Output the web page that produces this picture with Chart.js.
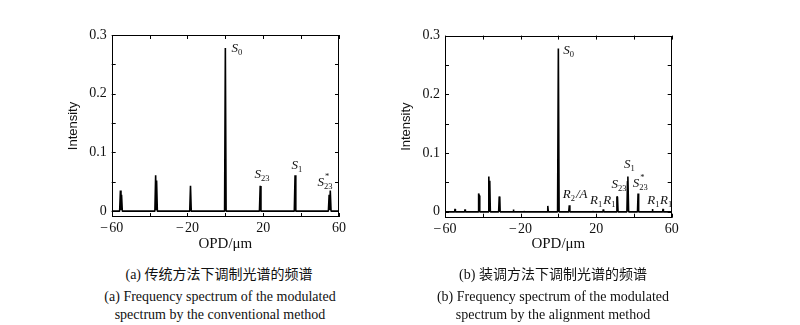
<!DOCTYPE html>
<html>
<head>
<meta charset="utf-8">
<script src="https://cdn.jsdelivr.net/npm/chart.js@4/dist/chart.umd.min.js"></script>
<style>
body { margin: 0; background: #fff; width: 800px; height: 325px; position: relative; overflow: hidden; }
.panel { position: absolute; top: 0; height: 260px; }
.cap { position: absolute; font-family: "Liberation Serif", "Noto Sans CJK SC", serif; color: #111;
       white-space: nowrap; transform: translateX(-50%); line-height: 18px; text-align: center; }
</style>
</head>
<body>
<div class="panel" style="left:0; width:400px"><canvas id="chartA"></canvas></div>
<div class="panel" style="left:390px; width:410px"><canvas id="chartB"></canvas></div>

<div class="cap" style="left:219px; top:266px; font-size:14px">(a) 传统方法下调制光谱的频谱</div>
<div class="cap" style="left:220px; top:288px; font-size:14px">(a) Frequency spectrum of the modulated<br>spectrum by the conventional method</div>
<div class="cap" style="left:553px; top:266px; font-size:14px">(b) 装调方法下调制光谱的频谱</div>
<div class="cap" style="left:553px; top:288px; font-size:14px">(b) Frequency spectrum of the modulated<br>spectrum by the alignment method</div>

<script>
// axis ticks (all get a tick mark, only some get a number)
const xTicks = [-60, -40, -20, 0, 20, 40, 60];
const xLabels = [-60, -20, 20, 60];
const yTicks = [0, 0.05, 0.1, 0.15, 0.2, 0.25, 0.3];
const yLabels = [0, 0.1, 0.2, 0.3];

// (a) conventional method - spectrum trace
const opdA = [-60, -55.8, -55.4, -55.1, -54.8, -54.4,
  -37.2, -36.8, -36.5, -36.3, -35.9,
  -18.8, -18.4, -18.0,
  -0.4, 0, 0.4,
  18.0, 18.4, 18.8,
  36.4, 36.8, 37.2,
  54.4, 54.8, 55.1, 55.4, 55.8, 60];
const intensityA = [0, 0, 0.035, 0.002, 0.028, 0,
  0, 0.061, 0.003, 0.052, 0,
  0, 0.043, 0,
  0, 0.278, 0,
  0, 0.043, 0,
  0, 0.061, 0,
  0, 0.028, 0.002, 0.035, 0, 0];

// (b) alignment method
const opdB = [-60, -54.9, -54.7, -54.5, -49.6, -49.4, -49.2,
  -42.4, -42.2, -41.9, -41.6,
  -37.1, -36.8, -36.5, -36.3, -36.0,
  -31.6, -31.3, -31.0, -30.8,
  -24.0, -23.8, -23.6, -18.4, -18.2, -18.0,
  -5.9, -5.6, -5.3,
  -0.4, 0, 0.4,
  5.5, 5.8, 6.1,
  18.0, 18.2, 18.4, 23.6, 23.8, 24.0,
  30.8, 31.0, 31.3, 31.6,
  36.3, 36.6, 36.8, 37.2,
  41.9, 42.2, 42.5,
  49.6, 49.8, 50.0, 55.2, 55.4, 55.6, 60];
const intensityB = [0, 0, 0.005, 0, 0, 0.004, 0,
  0, 0.031, 0.028, 0,
  0, 0.060, 0.004, 0.053, 0,
  0, 0.026, 0.024, 0,
  0, 0.004, 0, 0, 0.0015, 0,
  0, 0.010, 0,
  0, 0.278, 0,
  0, 0.011, 0,
  0, 0.0015, 0, 0, 0.004, 0,
  0, 0.026, 0.025, 0,
  0, 0.052, 0.060, 0,
  0, 0.031, 0,
  0, 0.005, 0, 0, 0.005, 0, 0];

// peak annotations: x,y = left/baseline of the letter in data units
const peakLabelsA = [
  { x: 3.3, y: 0.271, main: 'S', sub: '0' },
  { x: 15.4, y: 0.056, main: 'S', sub: '23' },
  { x: 34.9, y: 0.072, main: 'S', sub: '1' },
  { x: 48.6, y: 0.043, main: 'S', sub: '23', sup: '*' }
];
const peakLabelsB = [
  { x: 2.6, y: 0.269, main: 'S', sub: '0' },
  { x: 2.3, y: 0.023, main: 'R', sub: '2', tail: '/A' },
  { x: 16.8, y: 0.0127, main: 'R', sub: '1' },
  { x: 23.8, y: 0.0127, main: 'R', sub: '1' },
  { x: 28.2, y: 0.041, main: 'S', sub: '23' },
  { x: 34.8, y: 0.074, main: 'S', sub: '1' },
  { x: 39.4, y: 0.043, main: 'S', sub: '23', sup: '*' },
  { x: 47.1, y: 0.0127, main: 'R', sub: '1' },
  { x: 53.8, y: 0.0127, main: 'R', sub: '1' }
];

const SERIF = '"Liberation Serif", "Times New Roman", serif';

// box frame, inward tick marks and peak names
const framePlugin = {
  id: 'frame',
  afterDraw(chart, args, opts) {
    const {ctx, chartArea: a, scales: {x, y}} = chart;
    ctx.save();
    ctx.strokeStyle = '#000';
    ctx.lineWidth = 1;
    ctx.strokeRect(Math.round(a.left) + 0.5, Math.round(a.top) + 0.5,
      Math.round(a.width) - 1, Math.round(a.height) - 1);
    ctx.beginPath();
    xTicks.forEach(v => {
      const px = Math.round(x.getPixelForValue(v)) + 0.5;
      ctx.moveTo(px, a.bottom); ctx.lineTo(px, a.bottom - 4);
      ctx.moveTo(px, a.top); ctx.lineTo(px, a.top + 4);
    });
    yTicks.forEach(v => {
      const py = Math.round(y.getPixelForValue(v)) + 0.5;
      ctx.moveTo(a.left, py); ctx.lineTo(a.left + 4, py);
      ctx.moveTo(a.right, py); ctx.lineTo(a.right - 4, py);
    });
    ctx.stroke();

    ctx.fillStyle = '#111';
    ctx.textBaseline = 'alphabetic';
    ctx.textAlign = 'left';
    (opts.items || []).forEach(it => {
      let px = x.getPixelForValue(it.x);
      const py = y.getPixelForValue(it.y);
      ctx.font = 'italic 13px ' + SERIF;
      ctx.fillText(it.main, px, py);
      px += ctx.measureText(it.main).width;
      ctx.font = '8.5px ' + SERIF;
      ctx.fillText(it.sub, px, py + 3);
      const w = ctx.measureText(it.sub).width;
      if (it.sup) ctx.fillText(it.sup, px + 1, py - 7);
      px += w;
      if (it.tail) {
        ctx.font = 'italic 13px ' + SERIF;
        ctx.fillText(it.tail, px + 1, py);
      }
    });
    ctx.restore();
  }
};

function fmtX(v) {
  if (!xLabels.includes(v)) return '';
  return v < 0 ? '\u2212\u200a' + Math.abs(v) : String(v);
}
function fmtY(v) {
  if (!yLabels.some(l => Math.abs(l - v) < 1e-9)) return '';
  return v === 0 ? '0' : v.toFixed(1);
}

function buildChart(id, xs, ys, items, geo) {
  const pts = xs.map((v, i) => ({x: v, y: ys[i]}));
  return new Chart(document.getElementById(id), {
    type: 'scatter',
    data: {
      datasets: [{
        data: pts,
        showLine: true,
        borderColor: '#000',
        borderWidth: 1.6,
        borderJoinStyle: 'bevel',
        pointRadius: 0,
        tension: 0
      }]
    },
    options: {
      responsive: true,
      maintainAspectRatio: false,
      animation: false,
      events: [],
      layout: {padding: {left: geo.padLeft, right: geo.padRight, top: geo.top, bottom: 0}},
      plugins: {legend: {display: false}, tooltip: {enabled: false}, frame: {items: items}},
      scales: {
        x: {
          type: 'linear', min: -60, max: 60,
          afterBuildTicks: s => { s.ticks = xTicks.map(v => ({value: v})); },
          afterFit: s => { s.height = 260 - geo.bottom; },
          grid: {display: false, drawTicks: false},
          border: {display: false},
          ticks: {autoSkip: false, maxRotation: 0, padding: 3, color: '#111',
                  font: {family: SERIF, size: 14}, callback: fmtX},
          title: {display: true, text: 'OPD/\u03bcm', color: '#111',
                  font: {family: SERIF, size: 15}, padding: {top: 0, bottom: 7}}
        },
        y: {
          type: 'linear', min: -0.01, max: 0.3,
          afterBuildTicks: s => { s.ticks = yTicks.map(v => ({value: v})); },
          afterFit: s => { s.width = geo.yWidth; },
          grid: {display: false, drawTicks: false},
          border: {display: false},
          ticks: {autoSkip: false, padding: 5, color: '#111',
                  font: {family: SERIF, size: 14}, callback: fmtY},
          title: {display: true, text: 'Intensity', color: '#111',
                  font: {family: '"Liberation Sans", Arial, sans-serif', size: 13}, padding: {top: 4, bottom: 0}}
        }
      }
    },
    plugins: [framePlugin]
  });
}

buildChart('chartA', opdA, intensityA, peakLabelsA,
  {padLeft: 62, yWidth: 49.7, padRight: 61, top: 35, bottom: 217});
buildChart('chartB', opdB, intensityB, peakLabelsB,
  {padLeft: 5, yWidth: 50, padRight: 128.3, top: 35.6, bottom: 217.7});
</script>
</body>
</html>
